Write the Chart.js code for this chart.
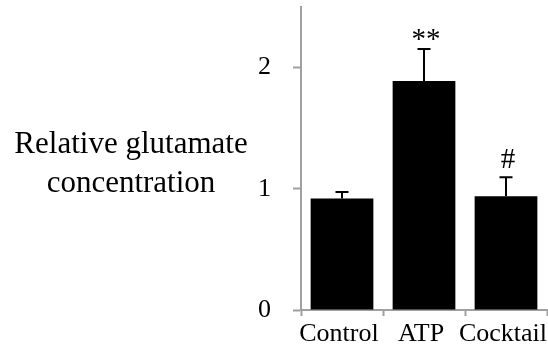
<!DOCTYPE html>
<html>
<head>
<meta charset="utf-8">
<script src="https://cdn.jsdelivr.net/npm/chart.js@4/dist/chart.umd.min.js"></script>
<style>
  html, body { margin: 0; padding: 0; background: #fff; }
  canvas { display: block; }
</style>
</head>
<body>
<canvas id="chart" width="548" height="349"></canvas>
<script>
const categories = ['Control', 'ATP', 'Cocktail'];
const means = [0.92, 1.89, 0.938];
const errors = [0.054, 0.264, 0.157];
const marks = ['', '**', '#'];
const yTicks = [0, 1, 2];
const yTitle = ['Relative glutamate', 'concentration'];

const serif = "'Liberation Serif', 'Times New Roman', serif";
const axisGray = '#a0a0a0';

// error bars, significance marks and the horizontal y title
const extras = {
  id: 'extras',
  afterDatasetsDraw(chart) {
    const ctx = chart.ctx;
    const x = chart.scales.x;
    const y = chart.scales.y;
    ctx.save();
    ctx.strokeStyle = '#000';
    ctx.lineWidth = 2;
    means.forEach((m, i) => {
      const cx = x.getPixelForValue(i);
      const y0 = y.getPixelForValue(m);
      const y1 = y.getPixelForValue(m + errors[i]);
      ctx.beginPath();
      ctx.moveTo(cx, y0);
      ctx.lineTo(cx, y1);
      ctx.moveTo(cx - 6.5, y1);
      ctx.lineTo(cx + 6.5, y1);
      ctx.stroke();

      if (marks[i]) {
        ctx.font = '29px ' + serif;
        ctx.fillStyle = '#000';
        ctx.textAlign = 'center';
        ctx.textBaseline = 'alphabetic';
        const desc = ctx.measureText(marks[i]).actualBoundingBoxDescent;
        ctx.fillText(marks[i], cx + 2, y1 - 9 - desc);
      }
    });

    ctx.font = '31px ' + serif;
    ctx.fillStyle = '#000';
    ctx.textAlign = 'center';
    ctx.textBaseline = 'alphabetic';
    yTitle.forEach((line, i) => ctx.fillText(line, 131, 153 + i * 39));
    ctx.restore();
  }
};

new Chart(document.getElementById('chart'), {
  type: 'bar',
  data: {
    labels: categories,
    datasets: [{
      data: means,
      backgroundColor: '#000',
      borderWidth: 0,
      barPercentage: 0.765,
      categoryPercentage: 1
    }]
  },
  options: {
    responsive: false,
    animation: false,
    layout: { padding: { top: 7, right: 1, left: 0, bottom: 0 } },
    plugins: {
      legend: { display: false },
      tooltip: { enabled: false }
    },
    scales: {
      x: {
        grid: {
          drawOnChartArea: false,
          tickLength: 6,
          tickWidth: 2,
          color: axisGray
        },
        border: { color: axisGray, width: 2 },
        ticks: {
          color: '#000',
          padding: 3,
          labelOffset: -3,
          autoSkip: false,
          maxRotation: 0,
          minRotation: 0,
          font: { family: serif, size: 26 }
        },
        afterFit(s) {
          s.height = 39;
          s.paddingLeft = 0;
          s.paddingRight = 0;
        }
      },
      y: {
        min: 0,
        max: 2.5,
        grid: {
          drawOnChartArea: false,
          tickLength: 8,
          tickWidth: 2,
          color: axisGray
        },
        border: { color: axisGray, width: 2 },
        ticks: {
          color: '#000',
          padding: 22,
          stepSize: 1,
          font: { family: serif, size: 26 }
        },
        afterBuildTicks(s) {
          s.ticks = yTicks.map(v => ({ value: v }));
        },
        afterFit(s) {
          s.width = 301;
          s.paddingTop = 0;
          s.paddingBottom = 0;
        }
      }
    }
  },
  plugins: [extras]
});
</script>
</body>
</html>
